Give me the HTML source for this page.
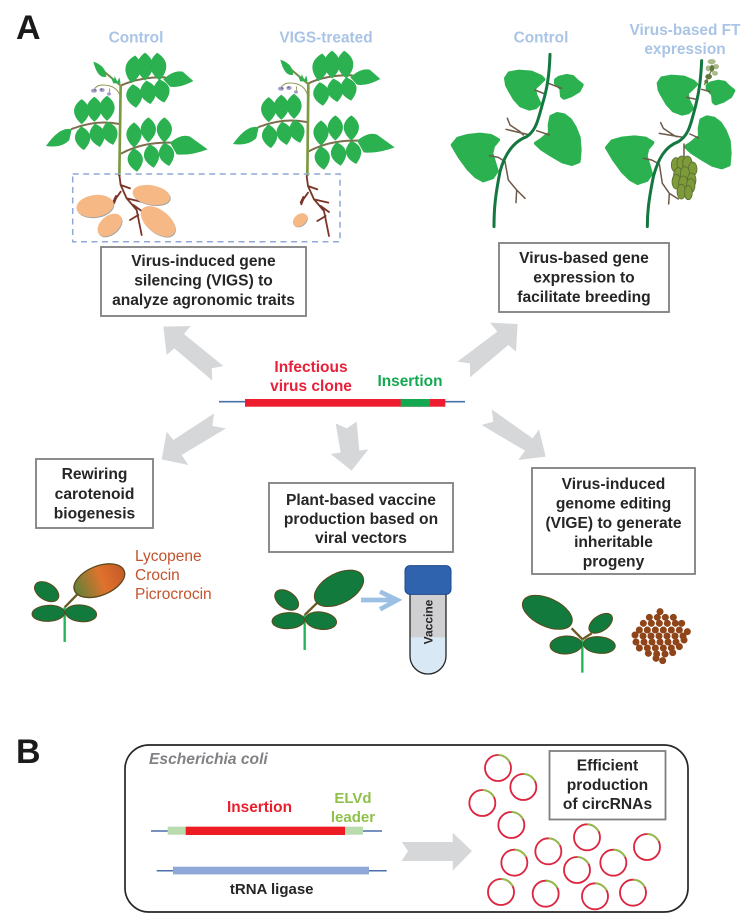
<!DOCTYPE html>
<html><head><meta charset="utf-8"><style>
html,body{margin:0;padding:0;background:#fff}
svg{display:block}
text{font-family:"Liberation Sans",sans-serif;font-weight:bold}
.t{font-size:15.6px;fill:#262626;text-anchor:middle}
.lb{font-size:15.4px;fill:#aac4e6;text-anchor:middle}
.box{fill:#fff;stroke:#7f7f7f;stroke-width:1.8}
.ly{font-size:15.5px;font-weight:normal;fill:#c2532d}
.ar{fill:#d5d7d9}
.lf{fill:#2bb14f}
.bl{fill:#2bb14f;stroke:#2bb14f;stroke-width:12;stroke-linejoin:round}
.br{fill:none;stroke:#7d6e4c;stroke-width:6;stroke-linecap:round}
.rt{fill:none;stroke:#7a3528;stroke-width:5.5;stroke-linecap:round;stroke-linejoin:round}
.vb{fill:none;stroke:#6d5a48;stroke-width:4.5;stroke-linecap:round;stroke-linejoin:round}
.vs{fill:none;stroke:#14773f;stroke-width:9;stroke-linecap:round}
.g{fill:#127a3c;stroke:#5c4a1c;stroke-width:3}
.sb{fill:none;stroke:#6b5a24;stroke-width:7}
.ss{stroke:#1eb558;stroke-width:7;fill:none}
</style></head><body>
<svg width="754" height="923" viewBox="0 0 754 923" xmlns="http://www.w3.org/2000/svg">
<defs>
<path id="l" d="M0,-42C30,-20 34,10 0,42C-34,10 -30,-20 0,-42Z"/>
<g id="plant">
<g class="br">
<path d="M272,197Q330,170 405,172"/><path d="M268,312Q200,298 125,327"/><path d="M275,400Q340,365 425,368"/>
<path d="M272,197L205,140" stroke="#7d8a45"/>
</g>
<path d="M272,232Q262,195 218,195Q197,195 190,214" fill="none" stroke="#8d9a50" stroke-width="3"/>
<path d="M238,205Q240,212 238,222" fill="none" stroke="#8d9a50" stroke-width="2.5"/>
<g fill="#a59cc9"><ellipse cx="192" cy="212" rx="9" ry="6"/><ellipse cx="216" cy="210" rx="8" ry="6"/><ellipse cx="237" cy="222" rx="6" ry="5"/></g>
<g fill="#62627a"><circle cx="195" cy="210" r="2.5"/><circle cx="214" cy="208" r="2.5"/></g>
<g class="lf">
<use href="#l" transform="translate(310,148) rotate(8)"/><use href="#l" transform="translate(345,140)"/><use href="#l" transform="translate(385,140) rotate(-5)"/>
<use href="#l" transform="translate(313,228) rotate(-8) scale(1,.85)"/><use href="#l" transform="translate(355,217) rotate(-10) scale(1,.85)"/><use href="#l" transform="translate(395,213) rotate(-12) scale(1,.85)"/>
<path d="M400,178Q430,150 458,155L490,183Q450,205 420,200Z"/>
<use href="#l" transform="translate(155,275) scale(.95,.9)"/><use href="#l" transform="translate(193,268) scale(.95,.9)"/><use href="#l" transform="translate(231,265) scale(.95,.9)"/>
<use href="#l" transform="translate(158,355) rotate(-6) scale(.95,.85)"/><use href="#l" transform="translate(202,346) rotate(-12) scale(.95,.85)"/><use href="#l" transform="translate(240,340) rotate(-15) scale(.95,.85)"/>
<path d="M125,328Q90,318 48,378Q95,385 118,360Z"/>
<use href="#l" transform="translate(312,345) scale(.95,.9)"/><use href="#l" transform="translate(355,330) scale(.95,.9)"/><use href="#l" transform="translate(403,330) scale(.95,.9)"/>
<use href="#l" transform="translate(316,420) rotate(-8) scale(.95,.85)"/><use href="#l" transform="translate(365,408) rotate(-10) scale(.95,.85)"/><use href="#l" transform="translate(410,403) rotate(-12) scale(.95,.85)"/>
<path d="M420,368Q455,340 480,350L533,388Q480,408 440,403Z"/>
<path d="M190,125Q228,138 229,170Q203,178 190,125Z"/>
<path d="M240,165L252,182L254,168L262,185L268,172L272,190L250,190Z"/>
</g>
</g>
<g id="roots">
<path class="rt" d="M268,465L272,495L290,535L320,570L335,645M272,495L300,505M272,515L258,535L252,550M290,535L333,545M310,555L335,573M300,600L325,585M250,545L258,528"/>
</g>
<polygon id="bA" points="228,175 238,160 265,155 305,158 332,170 340,178 326,192 312,205 316,225 328,250 316,262 298,266 272,256 254,236 240,212 231,195"/>
<polygon id="bB" points="378,180 388,173 410,168 428,171 441,184 455,195 446,212 423,226 402,233 396,228 394,206 378,190"/>
<polygon id="bC" points="364,290 381,282 402,286 420,300 434,322 446,352 449,390 446,424 425,432 397,424 363,404 335,386 318,370 334,360 350,346 360,340 359,315"/>
<polygon id="bD" points="68,375 84,356 112,348 150,344 183,348 204,360 189,378 184,400 193,430 200,453 187,472 160,481 138,469 115,446 90,412"/>
<g id="c">
<circle r="39" fill="none" stroke="#dd2540" stroke-width="5.5"/>
<circle r="39" fill="none" stroke="#8cc04a" stroke-width="5.5" stroke-dasharray="41 204" stroke-dashoffset="61"/>
</g>
<linearGradient id="og" x1="0" y1="0" x2="1" y2="0">
<stop offset="0" stop-color="#5f8238"/><stop offset=".55" stop-color="#e0722e"/><stop offset="1" stop-color="#c65a28"/>
</linearGradient>
</defs>

<text x="16" y="39" style="font-size:34px" fill="#1a1a1a">A</text>
<text x="16" y="763" style="font-size:34px" fill="#1a1a1a">B</text>

<text class="lb" x="136" y="42.5">Control</text>
<text class="lb" x="326" y="42.5">VIGS-treated</text>
<text class="lb" x="541" y="42.5">Control</text>
<text class="lb" x="685" y="35">Virus-based FT</text>
<text class="lb" x="685" y="54">expression</text>

<!-- tomato plants -->
<g transform="translate(30,20) scale(.33333)">
<use href="#plant"/>
<path d="M272,195L268,468" stroke="#7b9a3f" stroke-width="8" fill="none"/>
<use href="#roots"/>
<g fill="#a8a5a2">
<ellipse cx="197" cy="561" rx="56" ry="33" transform="rotate(-8 197 561)"/>
<ellipse cx="366" cy="528" rx="57" ry="29" transform="rotate(10 366 528)"/>
<ellipse cx="241" cy="618" rx="42" ry="27" transform="rotate(-40 241 618)"/>
<ellipse cx="386" cy="607" rx="60" ry="34" transform="rotate(38 386 607)"/>
</g>
<g fill="#f6b985">
<ellipse cx="195" cy="558" rx="56" ry="33" transform="rotate(-8 195 558)"/>
<ellipse cx="364" cy="525" rx="57" ry="29" transform="rotate(10 364 525)"/>
<ellipse cx="239" cy="615" rx="42" ry="27" transform="rotate(-40 239 615)"/>
<ellipse cx="384" cy="604" rx="60" ry="34" transform="rotate(38 384 604)"/>
</g>
<use href="#plant" transform="translate(561,-6)"/>
<path d="M835,190L832,468" stroke="#7b9a3f" stroke-width="8" fill="none"/>
<use href="#roots" transform="translate(562,3)"/>
<ellipse cx="812" cy="602" rx="24" ry="17" transform="rotate(-40 812 602)" fill="#a8a5a2"/>
<ellipse cx="810" cy="600" rx="24" ry="17" transform="rotate(-40 810 600)" fill="#f6b985"/>
</g>
<rect x="72.7" y="174" width="267.3" height="67.7" fill="none" stroke="#8fa8d6" stroke-width="1.5" stroke-dasharray="6 4.5"/>

<!-- vine plants -->
<g transform="translate(430,20) scale(.33333)">
<g class="bl">
<use href="#bA"/><use href="#bB"/><use href="#bC"/><use href="#bD"/>
<use href="#bA" transform="translate(458,15)"/><use href="#bB" transform="translate(455,17)"/><use href="#bC" transform="translate(450,10)"/><use href="#bD" transform="translate(463,8)"/>
</g>
<path class="vb" d="M315,210L345,222M355,190L395,205M228,328L300,345M232,295L240,315L270,335L280,345M320,332L358,345M178,407L205,412L225,425L235,480L260,510L258,548M260,510L285,535"/>
<path class="vs" d="M360,103C358,170 350,210 338,250C325,295 320,330 290,350C250,365 225,400 210,455C195,530 192,570 192,620"/>
<path class="vb" d="M770,232L800,238M815,208L840,215M688,340L760,352M692,308L700,325L730,345L740,350M780,342L806,354M640,415L665,420L688,432L697,490L718,520L716,552M718,520L745,537M762,372L762,412"/>
<path class="vs" d="M815,122C812,190 805,225 795,265C782,310 778,345 745,365C705,380 685,415 670,470C655,545 652,580 652,620"/>
<g fill="#7f9a3a" stroke="#55702c" stroke-width="2.5">
<ellipse cx="738" cy="435" rx="14" ry="22"/><ellipse cx="755" cy="430" rx="14" ry="22"/><ellipse cx="772" cy="430" rx="14" ry="22"/><ellipse cx="788" cy="447" rx="13" ry="21"/>
<ellipse cx="745" cy="465" rx="14" ry="22"/><ellipse cx="765" cy="462" rx="14" ry="22"/><ellipse cx="785" cy="480" rx="13" ry="21"/>
<ellipse cx="739" cy="485" rx="13" ry="22"/><ellipse cx="760" cy="490" rx="14" ry="22"/><ellipse cx="782" cy="497" rx="13" ry="21"/>
<ellipse cx="754" cy="515" rx="13" ry="22"/><ellipse cx="775" cy="518" rx="12" ry="21"/>
</g>
<path d="M823,195L845,150" stroke="#6f7f45" stroke-width="4"/>
<g fill="#a9b98a"><ellipse cx="845" cy="125" rx="12" ry="8"/><ellipse cx="858" cy="140" rx="9" ry="8"/><ellipse cx="835" cy="145" rx="8" ry="9"/><ellipse cx="855" cy="160" rx="9" ry="7"/></g>
<g fill="#5f7a3a"><ellipse cx="846" cy="145" rx="7" ry="10"/><ellipse cx="836" cy="170" rx="10" ry="8"/><ellipse cx="829" cy="185" rx="6" ry="6"/></g>
</g>

<!-- text boxes -->
<rect class="box" x="101" y="247" width="205" height="69"/>
<text class="t" x="203.5" y="266">Virus-induced gene</text><text class="t" x="203.5" y="285.5">silencing (VIGS) to</text><text class="t" x="203.5" y="305">analyze agronomic traits</text>
<rect class="box" x="499" y="243" width="170" height="69"/>
<text class="t" x="584" y="263">Virus-based gene</text><text class="t" x="584" y="282.5">expression to</text><text class="t" x="584" y="302">facilitate breeding</text>
<rect class="box" x="36" y="459" width="117" height="69"/>
<text class="t" x="94.5" y="479">Rewiring</text><text class="t" x="94.5" y="499">carotenoid</text><text class="t" x="94.5" y="518.5">biogenesis</text>
<rect class="box" x="269" y="483" width="184" height="69"/>
<text class="t" x="361" y="505">Plant-based vaccine</text><text class="t" x="361" y="524">production based on</text><text class="t" x="361" y="543">viral vectors</text>
<rect class="box" x="532" y="468" width="163" height="106"/>
<text class="t" x="613.5" y="489">Virus-induced</text><text class="t" x="613.5" y="508.5">genome editing</text><text class="t" x="613.5" y="528">(VIGE) to generate</text><text class="t" x="613.5" y="547">inheritable</text><text class="t" x="613.5" y="566.5">progeny</text>

<!-- central -->
<g transform="translate(150,320) scale(.33333)" class="ar">
<polygon points="40,20 122,18 102,42 220,138 185,145 187,182 73,85 50,105"/>
<polygon points="1103,12 1020,8 1042,35 922,125 960,130 960,172 1075,75 1098,95"/>
<polygon points="35,418 115,435 95,405 228,325 187,318 192,280 70,360 50,335"/>
<polygon points="605,452 655,388 628,392 620,305 590,325 557,310 572,398 542,402"/>
<polygon points="1187,410 1167,328 1148,355 1025,268 1030,305 995,315 1125,392 1105,420"/>
</g>
<line x1="219" y1="401.7" x2="465" y2="401.7" stroke="#4a6fa8" stroke-width="1.6"/>
<rect x="245" y="399" width="200.3" height="7.7" fill="#ed1c2e"/>
<rect x="400.7" y="399" width="29.3" height="7.7" fill="#14a850"/>
<text x="311" y="372" text-anchor="middle" style="font-size:15.5px" fill="#e8203a">Infectious</text>
<text x="311" y="391" text-anchor="middle" style="font-size:15.5px" fill="#e8203a">virus clone</text>
<text x="410" y="386" text-anchor="middle" style="font-size:15.4px" fill="#14a850">Insertion</text>

<!-- sprouts -->
<g transform="translate(20,530) scale(.33333)">
<path class="sb" d="M134,232L175,190"/>
<path class="ss" d="M134,232V336"/>
<ellipse class="g" cx="80" cy="185" rx="40" ry="25" transform="rotate(32 80 185)"/>
<ellipse class="g" cx="85" cy="250" rx="49" ry="24" transform="rotate(-3 85 250)"/>
<ellipse class="g" cx="183" cy="250" rx="47" ry="25" transform="rotate(6 183 250)"/>
<ellipse cx="238" cy="152" rx="80" ry="44" transform="rotate(-22 238 152)" fill="url(#og)" stroke="#5c4a1c" stroke-width="4"/>
</g>
<text class="ly" x="135" y="561">Lycopene</text><text class="ly" x="135" y="580">Crocin</text><text class="ly" x="135" y="599">Picrocrocin</text>

<g transform="translate(260,550) scale(.33333)">
<path class="sb" d="M134,195L175,155"/>
<path class="ss" d="M134,195V300"/>
<ellipse class="g" cx="80" cy="150" rx="40" ry="25" transform="rotate(35 80 150)"/>
<ellipse class="g" cx="85" cy="212" rx="49" ry="24" transform="rotate(-3 85 212)"/>
<ellipse class="g" cx="183" cy="212" rx="47" ry="26" transform="rotate(8 183 212)"/>
<ellipse class="g" cx="237" cy="115" rx="80" ry="45" transform="rotate(-28 237 115)"/>
<path d="M303,150H410M360,125L412,150L360,178" fill="none" stroke="#9cc0e4" stroke-width="14"/>
<path d="M450,125H558V318A54,54 0 0 1 450,318Z" fill="#d9e8f5"/>
<rect x="450" y="125" width="108" height="137" fill="#d0d0d2"/>
<path d="M450,125V318A54,54 0 0 0 558,318V125" fill="none" stroke="#2a2a2a" stroke-width="4"/>
<rect x="435" y="47" width="138" height="86" rx="15" fill="#2f63ad" stroke="#1d4a8c" stroke-width="3"/>
</g>
<text transform="translate(432.5,622) rotate(-90)" text-anchor="middle" style="font-size:12px" fill="#262626">Vaccine</text>

<g transform="translate(510,580) scale(.33333)">
<path class="sb" d="M217,178L185,145M217,178L245,160"/>
<path class="ss" d="M217,178V278"/>
<ellipse class="g" cx="112" cy="97" rx="80" ry="42" transform="rotate(25 112 97)"/>
<ellipse class="g" cx="272" cy="130" rx="40" ry="23" transform="rotate(-35 272 130)"/>
<ellipse class="g" cx="168" cy="195" rx="48" ry="27" transform="rotate(-3 168 195)"/>
<ellipse class="g" cx="268" cy="195" rx="48" ry="25" transform="rotate(5 268 195)"/>
<path fill="none" stroke="#8f4519" stroke-width="21" stroke-linecap="round" d="M450,95h.1M418,112h.1M442,112h.1M466,112h.1M490,112h.1M400,130h.1M424,130h.1M448,130h.1M472,130h.1M496,130h.1M515,130h.1M388,150h.1M412,150h.1M436,150h.1M460,150h.1M484,150h.1M508,150h.1M532,155h.1M375,165h.1M399,168h.1M423,168h.1M447,168h.1M471,168h.1M495,168h.1M519,168h.1M378,186h.1M402,186h.1M426,186h.1M450,186h.1M474,186h.1M498,186h.1M522,180h.1M388,204h.1M412,204h.1M436,204h.1M460,204h.1M484,204h.1M508,200h.1M415,220h.1M440,222h.1M465,222h.1M488,218h.1M458,242h.1M438,235h.1"/>
</g>

<!-- panel B -->
<rect x="125" y="745" width="563" height="167" rx="24" fill="#fff" stroke="#262626" stroke-width="1.7"/>
<text x="149" y="764" style="font-size:15.6px;font-style:italic" fill="#808285">Escherichia coli</text>
<text x="259.5" y="812" text-anchor="middle" style="font-size:15.4px" fill="#e8202e">Insertion</text>
<text x="353" y="803" text-anchor="middle" style="font-size:15px" fill="#8fc04a">ELVd</text>
<text x="353" y="822" text-anchor="middle" style="font-size:15px" fill="#8fc04a">leader</text>
<line x1="151" y1="831" x2="382" y2="831" stroke="#4a6fa8" stroke-width="1.5"/>
<rect x="167.7" y="826.7" width="195.3" height="8" fill="#b9dcae"/>
<rect x="185.7" y="826.7" width="159.3" height="8.3" fill="#ed1c24"/>
<line x1="156.7" y1="870.7" x2="386.7" y2="870.7" stroke="#4a6fa8" stroke-width="1.5"/>
<rect x="173" y="866.7" width="196" height="7.7" fill="#8fa8d8"/>
<text x="271.7" y="894" text-anchor="middle" style="font-size:15px" fill="#262626">tRNA ligase</text>
<polygon class="ar" points="401.7,842 452.7,842 452.7,832.7 472,851 452.7,870.7 452.7,861 401.7,861 408,851"/>
<g transform="translate(420,740) scale(.33333)">
<use href="#c" x="234" y="84"/><use href="#c" x="310" y="141"/><use href="#c" x="187" y="189"/><use href="#c" x="274" y="255"/>
<use href="#c" x="501" y="292"/><use href="#c" x="385" y="334"/><use href="#c" x="283" y="368"/><use href="#c" x="471" y="390"/>
<use href="#c" x="580" y="368"/><use href="#c" x="681" y="321"/><use href="#c" x="243" y="456"/><use href="#c" x="377" y="461"/>
<use href="#c" x="525" y="469"/><use href="#c" x="639" y="458"/>
</g>
<rect class="box" x="549.5" y="751" width="116" height="68.5"/>
<text class="t" x="607.5" y="770.5">Efficient</text><text class="t" x="607.5" y="790">production</text><text class="t" x="607.5" y="809">of circRNAs</text>
</svg>
</body></html>
